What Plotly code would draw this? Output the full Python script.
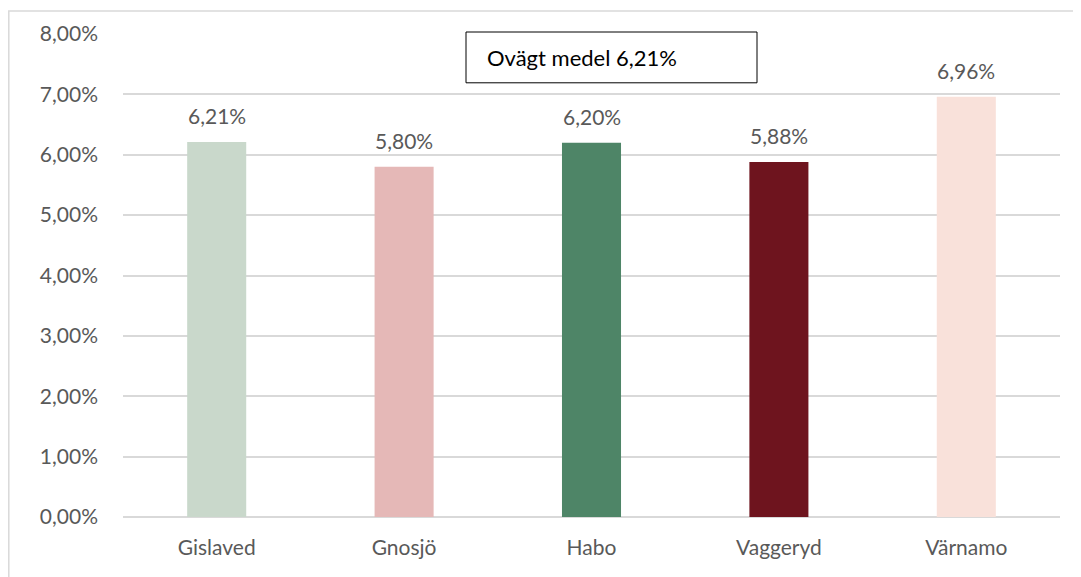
import plotly.graph_objects as go

kommuner = ["Gislaved", "Gnosjö", "Habo", "Vaggeryd", "Värnamo"]
andel = [0.0621, 0.0580, 0.0620, 0.0588, 0.0696]
farger = ["#C9D8CB", "#E5B8B7", "#4E8567", "#6E141E", "#F9E1DA"]
medel_text = "Ovägt medel 6,21%"
y_ticks = [0.0, 0.01, 0.02, 0.03, 0.04, 0.05, 0.06, 0.07, 0.08]

FONT = "Lato, 'Open Sans', sans-serif"
GREY = "#595959"

# plot area in page pixels: x 123..1060, y 32..517 (page body has an 8px margin)
PX0, PW, PY1, PH = 123, 937, 517, 485


def px(x):
    return (x - PX0) / PW


def py(y):
    return (PY1 - y) / PH


fig = go.Figure(go.Bar(
    x=kommuner, y=andel,
    marker=dict(color=farger, line=dict(width=0)),
    hoverinfo="skip",
))

# data labels above each bar
for k, v in zip(kommuner, andel):
    fig.add_annotation(
        x=k, y=v, xref="x", yref="y",
        text=f"{v*100:.2f}%".replace(".", ","),
        showarrow=False, yanchor="bottom", yshift=12,
        font=dict(family=FONT, size=21, color=GREY),
    )

# text box with the unweighted mean
fig.add_shape(type="rect", xref="paper", yref="paper",
              x0=px(466), x1=px(757), y0=py(81), y1=py(30),
              line=dict(color="#000000", width=1), fillcolor="white")
fig.add_annotation(
    x=px(485), y=py(56), xref="paper", yref="paper",
    text=medel_text, showarrow=False, xanchor="left", yanchor="middle",
    font=dict(family=FONT, size=22, color="#000000"),
)

# outer chart border (extends beyond the picture at right and bottom)
fig.add_shape(type="rect", xref="paper", yref="paper",
              x0=px(8.8), x1=1.2, y0=-0.3, y1=py(8.8),
              line=dict(color="#D9D9D9", width=1.5), fillcolor="rgba(0,0,0,0)",
              layer="below")

fig.update_layout(
    width=1073, height=569,
    margin=dict(l=115, r=21, t=24, b=60),
    paper_bgcolor="white", plot_bgcolor="white",
    separators=",.",
    bargap=0.685,
    showlegend=False,
    font=dict(family=FONT, size=21, color=GREY),
)
fig.update_yaxes(
    range=[0, 0.08], tickvals=y_ticks, tickformat=".2%",
    showgrid=True, gridcolor="#D9D9D9", gridwidth=1.5,
    zeroline=True, zerolinecolor="#D9D9D9", zerolinewidth=1.5,
    showline=False, ticks="", ticklabelstandoff=24,
    tickfont=dict(family=FONT, size=21, color=GREY),
)
fig.update_xaxes(
    showline=False, ticks="", ticklabelstandoff=16,
    tickfont=dict(family=FONT, size=21, color=GREY),
)

fig.write_html("out.html")
